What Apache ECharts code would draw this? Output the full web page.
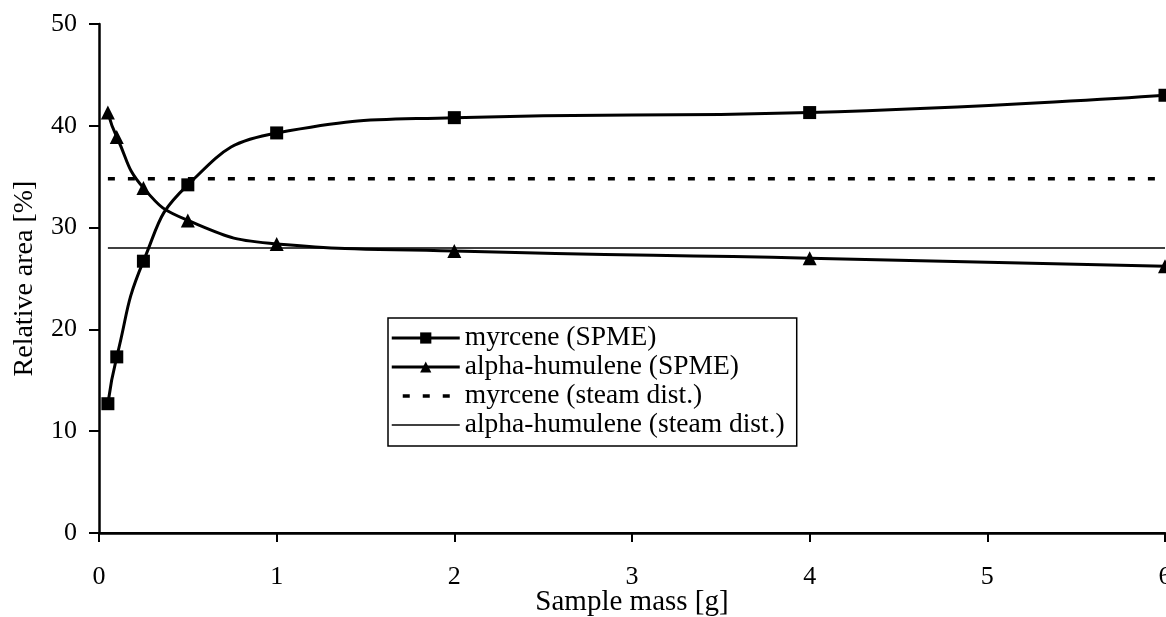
<!DOCTYPE html>
<html>
<head>
<meta charset="utf-8">
<script src="https://cdn.jsdelivr.net/npm/echarts@6/dist/echarts.min.js"></script>
<style>
  html, body { margin: 0; padding: 0; background: #fff; }
  #chart { width: 1166px; height: 617px; }
</style>
</head>
<body>
<div id="chart"></div>
<script>
// sample mass [g]
var massSpme = [0.05, 0.1, 0.25, 0.5, 1, 2, 4, 6];
// relative area [%]
var myrceneSpme = [12.7, 17.3, 26.7, 34.2, 39.3, 40.8, 41.3, 43.0];
var humuleneSpme = [41.3, 38.9, 33.9, 30.7, 28.4, 27.7, 27.0, 26.2];
// steam distillation reference levels
var massSteam = [0.05, 6];
var myrceneSteam = [34.8, 34.8];
var humuleneSteam = [28.0, 28.0];

var seriesNames = ['myrcene (SPME)', 'alpha-humulene (SPME)', 'myrcene (steam dist.)', 'alpha-humulene (steam dist.)'];

function pairs(xs, ys) {
  return xs.map(function (x, i) { return [x, ys[i]]; });
}

var font = 'Liberation Serif';
var chart = echarts.init(document.getElementById('chart'));

chart.setOption({
  animation: false,
  backgroundColor: '#fff',
  textStyle: { fontFamily: font, color: '#000' },
  grid: { left: 99, right: 1, top: 24, bottom: 84, containLabel: false, outerBoundsMode: 'none' },
  legend: {
    data: [
      { name: seriesNames[0], lineStyle: { width: 3 } },
      { name: seriesNames[1], lineStyle: { width: 3 } },
      { name: seriesNames[2], lineStyle: { width: 3.5, type: [7, 13], dashOffset: 9 } },
      { name: seriesNames[3], lineStyle: { width: 1.5 } }
    ],
    orient: 'vertical',
    left: 388,
    top: 318,
    padding: [6, 12, 7, 2],
    itemWidth: 68,
    itemHeight: 14,
    itemGap: 1,
    borderColor: '#000',
    borderWidth: 1.5,
    textStyle: { fontFamily: font, fontSize: 27.5, lineHeight: 27, color: '#000' }
  },
  xAxis: [
    {
      type: 'value',
      min: 0,
      max: 6,
      interval: 1,
      name: 'Sample mass [g]',
      nameLocation: 'middle',
      nameGap: 55,
      nameMoveOverlap: false,
      nameTextStyle: { fontFamily: font, fontSize: 29, color: '#000' },
      axisLine: { onZero: false, lineStyle: { color: '#000', width: 2.5 } },
      axisTick: { length: 9, lineStyle: { color: '#000', width: 2 } },
      axisLabel: { margin: 31, fontFamily: font, fontSize: 26, color: '#000' },
      splitLine: { show: false }
    },
    {
      type: 'value',
      position: 'top',
      min: 0,
      max: 6,
      axisLine: { show: true, lineStyle: { color: '#000', width: 2 } },
      axisTick: { show: false },
      axisLabel: { show: false },
      splitLine: { show: false }
    }
  ],
  yAxis: {
    type: 'value',
    min: 0,
    max: 50,
    interval: 10,
    name: 'Relative area [%]',
    nameLocation: 'middle',
    nameGap: 60,
    nameMoveOverlap: false,
    nameTextStyle: { fontFamily: font, fontSize: 28, color: '#000' },
    axisLine: { show: true, lineStyle: { color: '#000', width: 2.5 } },
    axisTick: { show: true, length: 10, lineStyle: { color: '#000', width: 2 } },
    axisLabel: { margin: 22, fontFamily: font, fontSize: 26, color: '#000' },
    splitLine: { show: false }
  },
  series: [
    {
      name: seriesNames[0],
      type: 'line',
      smooth: 0.5,
      data: pairs(massSpme, myrceneSpme),
      symbol: 'rect',
      symbolSize: 13,
      itemStyle: { color: '#000' },
      lineStyle: { color: '#000', width: 3 },
      z: 4
    },
    {
      name: seriesNames[1],
      type: 'line',
      smooth: 0.5,
      data: pairs(massSpme, humuleneSpme),
      symbol: 'triangle',
      symbolSize: 14,
      itemStyle: { color: '#000' },
      lineStyle: { color: '#000', width: 3 },
      z: 4
    },
    {
      name: seriesNames[2],
      type: 'line',
      data: pairs(massSteam, myrceneSteam),
      symbol: 'none',
      itemStyle: { color: '#000', opacity: 0 },
      lineStyle: { color: '#000', width: 3.5, type: [7, 13] },
      z: 3
    },
    {
      name: seriesNames[3],
      type: 'line',
      data: pairs(massSteam, humuleneSteam),
      symbol: 'none',
      itemStyle: { color: '#000', opacity: 0 },
      lineStyle: { color: '#000', width: 1.5 },
      z: 3
    }
  ]
});
</script>
</body>
</html>
